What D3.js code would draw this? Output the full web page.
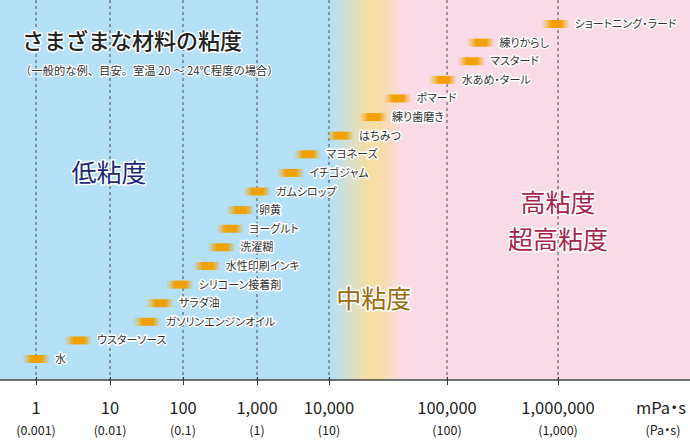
<!DOCTYPE html>
<html><head><meta charset="utf-8">
<script src="https://cdn.jsdelivr.net/npm/d3@7/dist/d3.min.js"></script>
<style>
html,body{margin:0;padding:0;background:#fff;}
svg{display:block;font-family:"Noto Sans CJK JP","Noto Sans",sans-serif;}
.halo{paint-order:stroke;stroke:#fff;stroke-linejoin:round;}
.palt{font-feature-settings:"palt" 1;}
</style></head>
<body>
<svg id="chart" width="690" height="440"></svg>
<script>
const categories = ["水","ウスターソース","ガソリンエンジンオイル","サラダ油","シリコーン接着剤","水性印刷インキ","洗濯糊","ヨーグルト","卵黄","ガムシロップ","イチゴジャム","マヨネーズ","はちみつ","練り歯磨き","ポマード","水あめ・タール","マスタード","練りからし","ショートニング・ラード"];
const values = [1, 3.7, 32, 48, 90, 210, 330, 430, 590, 1000, 2900, 5000, 12400, 23600, 38000, 92000, 165000, 200000, 950000];
const tickValues = [1, 10, 100, 1000, 10000, 100000, 1000000];
const tickLabels = ["1","10","100","1,000","10,000","100,000","1,000,000"];
const tickSubLabels = ["(0.001)","(0.01)","(0.1)","(1)","(10)","(100)","(1,000)"];
const unitLabel = "mPa・s";
const unitSubLabel = "(Pa・s)";
const title = "さまざまな材料の粘度";
const subtitle = "（一般的な例、目安。室温 20 ～ 24℃程度の場合）";
const zones = [
  {lines:["低粘度"], value: 9.7, color:"#1c2a7a", row: 10.0},
  {lines:["中粘度"], value: 24000, color:"#9a6a0e", row: 3.2},
  {lines:["高粘度","超高粘度"], value: 1000000, color:"#a6234e", row: 8.4}
];

const W = 690, H = 440, axisY = 380;
const svg = d3.select("#chart");
const defs = svg.append("defs");

const x = d3.scaleLog()
  .domain(tickValues)
  .range([36, 110, 183, 257, 329, 447, 558]);
const y = d3.scalePoint().domain(categories).range([359, 24]);
const rowY = d3.scaleLinear().domain([0, categories.length - 1]).range([359, 24]);

// background gradient
const bg = defs.append("linearGradient").attr("id","bg")
  .attr("gradientUnits","userSpaceOnUse").attr("x1",0).attr("x2",W).attr("y1",0).attr("y2",0);
[[0,"#b4e0f8"],[x(10000)+1,"#b4e0f8"],[368,"#f6dea2"],[380,"#f7dca8"],[404,"#f9dbe7"],[W,"#f9dbe7"]]
  .forEach(([px,c]) => bg.append("stop").attr("offset", px / W).attr("stop-color", c));
svg.append("rect").attr("x",0).attr("y",0).attr("width",W).attr("height",axisY).attr("fill","url(#bg)");

// bar gradient
const bar = defs.append("linearGradient").attr("id","barg").attr("x1",0).attr("x2",1).attr("y1",0).attr("y2",0);
[[0,0],[0.15,0.35],[0.35,1],[0.7,1],[0.88,0.4],[1,0]].forEach(([o,a]) =>
  bar.append("stop").attr("offset",o).attr("stop-color","#f0a000").attr("stop-opacity",a));

// gridlines
svg.append("g").selectAll("line").data(tickValues).join("line")
  .attr("x1", d => x(d)).attr("x2", d => x(d))
  .attr("y1", 0).attr("y2", axisY)
  .attr("stroke","#4a4a4a").attr("stroke-width",1).attr("stroke-dasharray","3,3");

// axis
const axis = d3.axisBottom(x).tickValues(tickValues).tickSizeInner(5).tickSizeOuter(0).tickFormat("");
const ag = svg.append("g").attr("transform",`translate(0,${axisY})`).call(axis);
ag.select(".domain").remove();
ag.selectAll(".tick line").attr("y1",-3).attr("stroke","#333");
svg.append("line").attr("x1",0).attr("x2",W).attr("y1",axisY).attr("y2",axisY)
  .attr("stroke","#444").attr("stroke-width",1.5);

// tick labels
svg.append("g").selectAll("text").data(tickValues).join("text")
  .attr("x", d => x(d)).attr("y", 414).attr("text-anchor","middle")
  .attr("font-size",16.5).attr("fill","#222").text((d,i) => tickLabels[i]);
svg.append("g").selectAll("text").data(tickValues).join("text")
  .attr("x", d => x(d)).attr("y", 435).attr("text-anchor","middle")
  .attr("font-size",12.5).attr("fill","#222").text((d,i) => tickSubLabels[i]);
svg.append("text").attr("class","palt").attr("x",661).attr("y",414).attr("text-anchor","middle")
  .attr("font-size",16.5).attr("fill","#222").text(unitLabel);
svg.append("text").attr("class","palt").attr("x",663).attr("y",435).attr("text-anchor","middle")
  .attr("font-size",12.5).attr("fill","#222").text(unitSubLabel);

// bars
const bw = 28, bh = 8;
svg.append("g").selectAll("rect").data(categories).join("rect")
  .attr("x", (d,i) => x(values[i]) - bw/2).attr("y", d => y(d) - bh/2)
  .attr("width", bw).attr("height", bh).attr("fill","url(#barg)");

// labels
svg.append("g").selectAll("text").data(categories).join("text")
  .attr("class","halo palt")
  .attr("x", (d,i) => x(values[i]) + 19).attr("y", d => y(d) + 4)
  .attr("font-size",11).attr("fill","#333").attr("stroke-width",3).text(d => d);

// zones
zones.forEach(z => {
  z.lines.forEach((t,j) => {
    svg.append("text").attr("class","halo")
      .attr("x", x(z.value)).attr("y", rowY(z.row) + 9 + j*37)
      .attr("text-anchor","middle").attr("font-size",25).attr("fill",z.color)
      .attr("stroke-width",3).text(t);
  });
});

// title
svg.append("text").attr("class","halo").attr("x",22).attr("y",49)
  .attr("font-size",22).attr("font-weight",500).attr("fill","#222").attr("stroke-width",3).text(title);
svg.append("text").attr("class","halo").attr("x",20).attr("y",75)
  .attr("font-size",11.3).attr("fill","#333").attr("stroke-width",2.5).text(subtitle);
</script>
</body></html>
